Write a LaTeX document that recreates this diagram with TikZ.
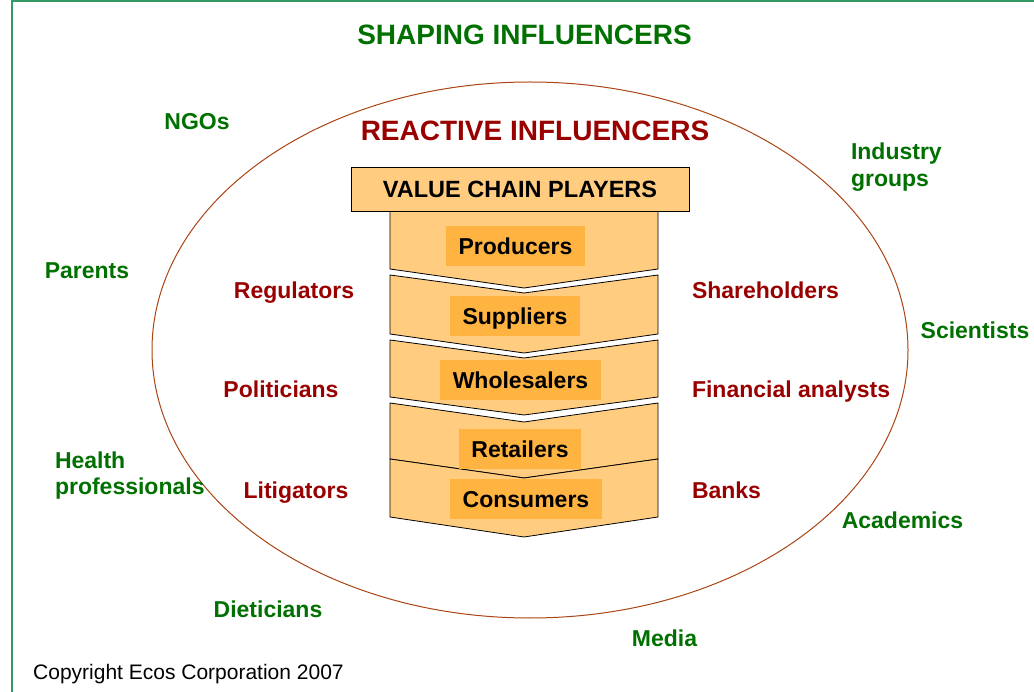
\documentclass[tikz,border=0pt]{standalone}
\usepackage{fontspec}
\setmainfont{Liberation Sans}
\definecolor{shapegreen}{RGB}{0,112,0}
\definecolor{reactred}{RGB}{153,0,0}
\definecolor{framegreen}{RGB}{51,153,102}
\definecolor{ellcol}{RGB}{170,68,20}
\definecolor{chevfill}{RGB}{255,204,128}
\definecolor{boxfill}{RGB}{255,179,64}
\begin{document}
\begin{tikzpicture}[x=1pt,y=-1pt,
  lab/.style={font=\fontsize{23}{27}\selectfont\bfseries, inner sep=0pt, outer sep=0pt},
  bigtitle/.style={font=\fontsize{28}{32}\selectfont\bfseries, inner sep=0pt, outer sep=0pt},
  shaping/.style={lab, text=shapegreen},
  reactive/.style={lab, text=reactred},
  chev/.style={fill=chevfill, draw=black, line width=0.8pt, line join=miter},
  inbox/.style={lab, fill=boxfill, text height=16.5pt, text depth=0pt, minimum height=40pt},
  headbox/.style={lab, font=\fontsize{23.5}{27}\selectfont\bfseries, fill=chevfill, draw=black, line width=0.8pt, text height=16.8pt, text depth=0pt, minimum height=44pt, minimum width=338pt}
]
\useasboundingbox (0,0) rectangle (1034,692);
% frame
\draw[framegreen, line width=2pt] (12,692) -- (12,1.5) -- (1034,1.5);
% ellipse
\draw[ellcol, line width=1pt] (530,350) ellipse [x radius=378pt, y radius=268pt];
% titles
\node[bigtitle, text=shapegreen, anchor=base] (shapingt) at (524.5,45) {SHAPING INFLUENCERS};
\node[bigtitle, text=reactred, anchor=base] (reactt) at (535,141) {REACTIVE INFLUENCERS};
% chevrons
\draw[chev] (390,211) -- (658,211) -- (658,269) -- (524,288) -- (390,269) -- cycle;
\draw[chev] (390,275) -- (524,293) -- (658,275) -- (658,334) -- (524,353) -- (390,334) -- cycle;
\draw[chev] (390,340) -- (524,358) -- (658,340) -- (658,397) -- (524,415) -- (390,397) -- cycle;
\draw[chev] (390,403) -- (524,422) -- (658,403) -- (658,459) -- (524,478) -- (390,459) -- cycle;
\draw[chev] (390,459) -- (524,478) -- (658,459) -- (658,517) -- (524,537) -- (390,517) -- cycle;
\node[headbox] (vcp) at (520,189) {VALUE CHAIN PLAYERS};
\node[inbox, minimum width=139pt] (prod) at (515.5,246) {Producers};
\node[inbox, minimum width=130pt] (supp) at (515,316) {Suppliers};
\node[inbox, minimum width=161pt] (whol) at (520.5,380) {Wholesalers};
\node[inbox, minimum width=122pt] (reta) at (520,449) {Retailers};
\node[inbox, minimum width=152pt] (cons) at (526,499) {Consumers};
% reactive influencers
\node[reactive, anchor=base] (regul) at (294,299) {Regulators};
\node[reactive, anchor=base] (polit) at (281,398) {Politicians};
\node[reactive, anchor=base] (litig) at (296,498) {Litigators};
\node[reactive, anchor=base west] (share) at (692,299) {Shareholders};
\node[reactive, anchor=base west] (finan) at (692,398) {Financial analysts};
\node[reactive, anchor=base west] (banks) at (692,498) {Banks};
% shaping influencers
\node[shaping, anchor=base] (ngos) at (197,130) {NGOs};
\node[shaping, anchor=north west, align=left] (indus) at (851,142.5) {Industry\\groups};
\node[shaping, anchor=base] (paren) at (87,279) {Parents};
\node[shaping, anchor=base] (scien) at (975,339) {Scientists};
\node[shaping, anchor=north west, align=left, font=\fontsize{23}{26}\selectfont\bfseries] (healt) at (55,451.5) {Health\\professionals};
\node[shaping, anchor=base] (acade) at (902.5,528) {Academics};
\node[shaping, anchor=base] (dieti) at (268,617) {Dieticians};
\node[shaping, anchor=base] (media) at (664.5,646) {Media};
% copyright
\node[inner sep=0pt, anchor=base west, font=\fontsize{21}{24}\selectfont] (copyr) at (33,679) {Copyright Ecos Corporation 2007};
\end{tikzpicture}
\end{document}
